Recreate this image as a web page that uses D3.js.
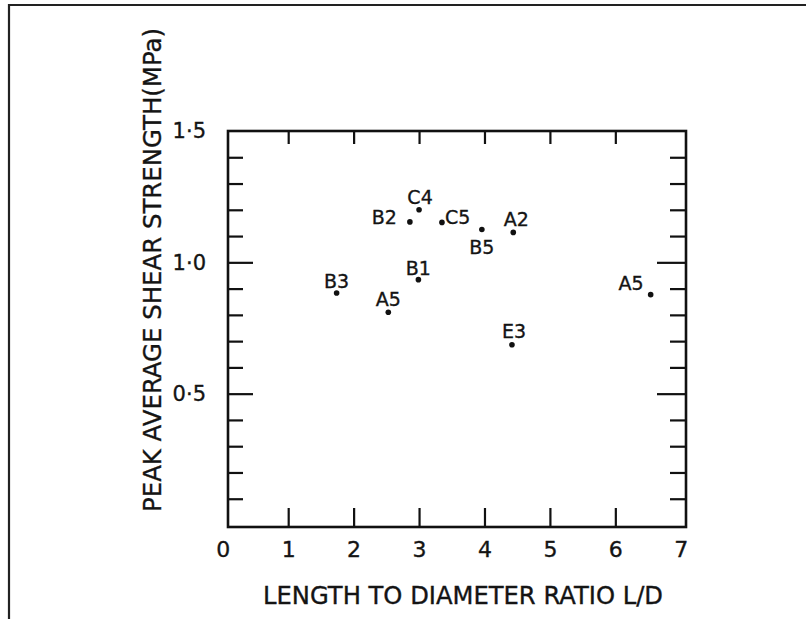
<!DOCTYPE html>
<html>
<head>
<meta charset="utf-8">
<script src="https://cdn.jsdelivr.net/npm/d3@7"></script>
<style>
  html, body { margin: 0; padding: 0; background: #fff; }
  svg { display: block; }
  text { font-family: "DejaVu Sans", sans-serif; fill: #141414; stroke: #141414; stroke-width: 0.35px; }
</style>
</head>
<body>
<svg id="chart" width="806" height="619"></svg>
<script>
// Specimen results: peak average shear strength against L/D ratio
const specimens = ["B3", "A5", "B1", "B2", "C4", "C5", "B5", "A2", "E3", "A5"];
const ldRatio = [1.74, 2.53, 2.99, 2.86, 3.00, 3.35, 3.96, 4.44, 4.42, 6.54];
const shearStrength = [0.883, 0.81, 0.934, 1.154, 1.20, 1.152, 1.125, 1.114, 0.686, 0.877];

// Axis ticks
const xTickLabels = [0, 1, 2, 3, 4, 5, 6, 7];
const xInnerTicks = [1, 2, 3, 4, 5, 6];
const yTickLabels = [0.5, 1.0, 1.5];
const yMajorTicks = [0.5, 1.0];
const yMinorTicks = [0.1, 0.2, 0.3, 0.4, 0.6, 0.7, 0.8, 0.9, 1.1, 1.2, 1.3, 1.4];

// Where each specimen label sits relative to its dot: [text-anchor, dx, dy]
const labelPlacement = [
  ["middle", 0, -5], ["middle", 0, -6], ["middle", 0, -5], ["end", -13, 2],
  ["middle", 1, -6], ["start", 3, 2], ["middle", 0, 24], ["middle", 3, -6],
  ["middle", 2, -7], ["end", -7, -5]
];

const svg = d3.select("#chart");
const plot = { left: 228, right: 686, top: 131, bottom: 527 };

const x = d3.scaleLinear().domain([0.08, 7.08]).range([plot.left, plot.right]);
const y = d3.scaleLinear().domain([0, 1.5]).range([525, plot.top]);

// page border (top and left edges)
svg.append("path")
  .attr("d", "M9,619 V5 H806")
  .attr("fill", "none")
  .attr("stroke", "#222")
  .attr("stroke-width", 2.2);

// plot frame
svg.append("rect")
  .attr("x", plot.left).attr("y", plot.top)
  .attr("width", plot.right - plot.left).attr("height", plot.bottom - plot.top)
  .attr("fill", "none").attr("stroke", "#111").attr("stroke-width", 2.6);

function tickAxis(axis, transform) {
  const g = svg.append("g").attr("transform", transform).call(axis);
  g.select(".domain").remove();
  g.selectAll("text").remove();
  g.selectAll("line").attr("stroke", "#111").attr("stroke-width", 2.2);
  return g;
}

// inward ticks on all four sides
tickAxis(d3.axisRight(y).tickValues(yMinorTicks).tickSize(15).tickSizeOuter(0), `translate(${plot.left},0)`);
tickAxis(d3.axisRight(y).tickValues(yMajorTicks).tickSize(25).tickSizeOuter(0), `translate(${plot.left},0)`);
tickAxis(d3.axisLeft(y).tickValues(yMinorTicks).tickSize(16).tickSizeOuter(0), `translate(${plot.right},0)`);
tickAxis(d3.axisLeft(y).tickValues(yMajorTicks).tickSize(29).tickSizeOuter(0), `translate(${plot.right},0)`);
tickAxis(d3.axisTop(x).tickValues(xInnerTicks).tickSize(19).tickSizeOuter(0), `translate(0,${plot.bottom})`);
tickAxis(d3.axisBottom(x).tickValues(xInnerTicks).tickSize(13).tickSizeOuter(0), `translate(0,${plot.top})`);

// tick labels
const xLab = svg.append("g").attr("transform", `translate(0,${plot.bottom})`)
  .call(d3.axisBottom(x).tickValues(xTickLabels).tickSize(0).tickFormat(d3.format("d")));
xLab.select(".domain").remove();
xLab.selectAll("text")
  .attr("y", 30).attr("dy", null)
  .attr("font-size", 22).attr("font-family", "DejaVu Sans, sans-serif").attr("fill", "#141414");

const yLab = svg.append("g").attr("transform", `translate(${plot.left},0)`)
  .call(d3.axisLeft(y).tickValues(yTickLabels).tickSize(0).tickPadding(22)
    .tickFormat(d => d3.format(".1f")(d).replace(".", "\u00B7")));
yLab.select(".domain").remove();
yLab.selectAll("text")
  .attr("font-size", 21).attr("font-family", "DejaVu Sans, sans-serif").attr("fill", "#141414");

// axis titles
svg.append("text")
  .attr("x", 463).attr("y", 604)
  .attr("text-anchor", "middle")
  .attr("font-size", 24)
  .attr("textLength", 400).attr("lengthAdjust", "spacingAndGlyphs")
  .text("LENGTH TO DIAMETER RATIO L/D");

svg.append("text")
  .attr("transform", "translate(161,270) rotate(-90)")
  .attr("text-anchor", "middle")
  .attr("font-size", 24)
  .attr("textLength", 484).attr("lengthAdjust", "spacingAndGlyphs")
  .text("PEAK AVERAGE SHEAR STRENGTH(MPa)");

// data points and their labels
const points = specimens.map((name, i) => ({ name, ld: ldRatio[i], tau: shearStrength[i], place: labelPlacement[i] }));

svg.append("g").selectAll("circle").data(points).join("circle")
  .attr("cx", d => x(d.ld)).attr("cy", d => y(d.tau))
  .attr("r", 2.8).attr("fill", "#111");

svg.append("g").selectAll("text").data(points).join("text")
  .attr("x", d => x(d.ld) + d.place[1])
  .attr("y", d => y(d.tau) + d.place[2])
  .attr("text-anchor", d => d.place[0])
  .attr("font-size", 19)
  .text(d => d.name);
</script>
</body>
</html>
